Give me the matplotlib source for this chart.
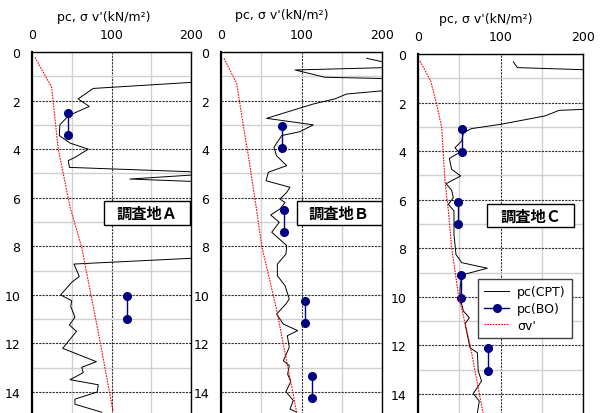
import numpy as np
import matplotlib.pyplot as plt
from matplotlib.patches import Rectangle
from matplotlib.ticker import MultipleLocator

plt.rcParams['font.family'] = ['DejaVu Sans', 'Noto Sans CJK JP']

nan = np.nan

# --- 調査地A ---
cpt_a_x = [250, 77, 58, 72, 46, 35, 34.4, 47.8, 70.8, 54, 45.7, 47, 242, 123, 300, 2000,
           52.8, 59.5, 50, 36, 50, 48.7, 54, 47, 56, 38.6, 81, 62.5, 64.5, 47.8, 83.4, 82,
           54, 54, 87.7]
cpt_a_z = [1.15, 1.5, 1.93, 2.24, 2.62, 3.0, 3.44, 3.75, 4.0, 4.34, 4.47, 4.75, 4.98, 5.23, 5.45, 5.6,
           8.73, 9.24, 9.48, 10.0, 10.24, 10.47, 10.92, 11.24, 11.5, 12.2, 12.75, 12.98, 13.2, 13.49, 13.7, 14.0,
           14.29, 14.5, 14.83]
sv_a_x = [3.8, 24.7, 33, 48, 62.5, 85.5, 102]
sv_a_z = [0.22, 1.45, 4.0, 6.4, 8.04, 11.9, 14.8]
bo_a_x = [45, 45, nan, 119, 119]
bo_a_z = [2.51, 3.4, nan, 10.06, 11.0]

# --- 調査地B ---
cpt_b_x = [181, 230, 92, 129, 240, 250, 156, 141.6, 114.7, 56.7, 114.7, 98, 75.4, 65.8, 69, 81.6,
           58.8, 56, 85.7, 81.6, 73.3, 79.5, 73.3, 61.7, 72.4, 63, 81.6, 80.7, 70, 70, 79.5, 84.8,
           80.7, 69, 77.4, 95.2, 82.4, 84.8, 77.4, 84.8, 82.8, 86.6, 80.7, 89.8, 85.7, 94]
cpt_b_z = [0.26, 0.62, 0.74, 1.04, 1.12, 1.45, 1.73, 1.93, 2.14, 2.73, 3.0, 3.28, 3.44, 3.92, 4.27, 4.68,
           4.95, 5.3, 5.57, 5.78, 6.05, 6.2, 6.46, 6.71, 7.01, 7.42, 7.97, 8.32, 8.73, 9.21, 9.62, 10.17,
           10.37, 10.79, 11.2, 11.47, 11.68, 12.16, 12.71, 12.91, 13.26, 13.57, 13.98, 14.35, 14.7, 14.83]
sv_b_x = [3.7, 19.5, 27.7, 34, 44, 50.5, 69, 94]
sv_b_z = [0.26, 1.3, 3.03, 4.27, 6.46, 7.97, 10.6, 14.83]
bo_b_x = [76, 76, nan, 78, 78, nan, 104, 104, nan, 113.5, 113.5]
bo_b_z = [3.03, 3.97, nan, 6.5, 7.42, nan, 10.24, 11.16, nan, 13.33, 14.26]

# --- 調査地C ---
cpt_c_x = [115.5, 120.4, 250, 260, 171, 154, 99.4, 65, 55, 53, 44.8, 50, 38, 40.8, 51.7, 34,
           40.8, 42.8, 36.8, 43.6, 43.6, 46, 53, 84, 53, 51, 51, 55, 62.2, 57, 63, 72,
           73, 77, 67, 74.3, 72]
cpt_c_z = [0.32, 0.56, 0.7, 2.2, 2.32, 2.55, 2.9, 3.07, 3.24, 3.58, 3.86, 4.06, 4.3, 4.75, 5.02, 5.34,
           5.61, 5.92, 6.19, 6.46, 7.42, 8.25, 8.59, 8.82, 9.1, 9.65, 10.03, 10.58, 10.86, 11.1, 12.09, 12.3,
           13.05, 13.46, 13.98, 14.29, 14.77]
sv_c_x = [2.4, 15.4, 22.6, 28.7, 32.7, 36.8, 40.8, 48.9, 63, 79]
sv_c_z = [0.29, 1.11, 2.07, 3.03, 5.23, 6.46, 7.97, 9.9, 11.95, 14.83]
bo_c_x = [53.7, 53.7, nan, 49, 49, nan, 51.7, 51.7, nan, 85.3, 85.3]
bo_c_z = [3.1, 4.02, nan, 6.1, 7.01, nan, 9.1, 10.03, nan, 12.12, 13.05]

site_names = ['調査地Ａ', '調査地Ｂ', '調査地Ｃ']
cpt_x = [cpt_a_x, cpt_b_x, cpt_c_x]
cpt_z = [cpt_a_z, cpt_b_z, cpt_c_z]
sv_x = [sv_a_x, sv_b_x, sv_c_x]
sv_z = [sv_a_z, sv_b_z, sv_c_z]
bo_x = [bo_a_x, bo_b_x, bo_c_x]
bo_z = [bo_a_z, bo_b_z, bo_c_z]

W, H = 610, 414
fig = plt.figure(figsize=(6.1, 4.14), dpi=100)

# panel pixel layout (left, right, top)
panels = [(32, 191, 53), (221, 382, 53), (418, 583, 55)]
title_pos = [(104, 17), (282, 16), (486, 20)]
box_pos = [(90, 6.12, 109, 1.0), (94, 6.12, 106, 1.0), (84, 6.18, 105, 0.95)]
px_per_m = 24.29
zmax = 15

for i, (l, r, t) in enumerate(panels):
    b = t + zmax * px_per_m
    ax = fig.add_axes([l / W, 1 - b / H, (r - l) / W, (b - t) / H])
    ax.set_xlim(0, 200)
    ax.set_ylim(zmax, 0)

    ax.xaxis.set_major_locator(MultipleLocator(100))
    ax.xaxis.set_minor_locator(MultipleLocator(50))
    ax.yaxis.set_major_locator(MultipleLocator(2))
    ax.yaxis.set_minor_locator(MultipleLocator(1))
    ax.grid(which='minor', color='#d0d0d0', linewidth=1.0, linestyle='-')
    ax.grid(which='major', color='#303030', linewidth=0.8, linestyle=(0, (2, 1)))
    ax.set_axisbelow(True)
    ax.xaxis.tick_top()
    ax.tick_params(which='both', length=0)
    ax.tick_params(axis='x', pad=8, labelsize=9)
    ax.tick_params(axis='y', pad=8.5, labelsize=9)

    ax.spines['bottom'].set_visible(False)
    ax.spines['left'].set_linewidth(1.6)
    ax.spines['right'].set_linewidth(1.0)
    ax.spines['top'].set_linewidth(1.0)

    l1, = ax.plot(cpt_x[i], cpt_z[i], color='black', linewidth=0.7, label='pc(CPT)')
    l2, = ax.plot(bo_x[i], bo_z[i], color='#000080', linewidth=1.0, marker='o',
                  markersize=5.5, label='pc(BO)')
    l3, = ax.plot(sv_x[i], sv_z[i], color='red', linewidth=0.8, linestyle=(0, (1.5, 1)),
                  label="σv'")

    bx, bz, bw, bh = box_pos[i]
    ax.add_patch(Rectangle((bx, bz), bw, bh, facecolor='white', edgecolor='black',
                           linewidth=1.0, zorder=4))
    ax.text(bx + bw / 2, bz + bh / 2, site_names[i], ha='center', va='center',
            fontsize=11, fontweight='bold', zorder=5,
            family=['Noto Sans CJK JP', 'DejaVu Sans'])

    tx, ty = title_pos[i]
    fig.text(tx / W, 1 - ty / H, "pc, σ v'(kN/m²)", ha='center', va='center', fontsize=9)

    if i == 2:
        leg = ax.legend(handles=[l1, l2, l3], loc='upper left',
                        bbox_to_anchor=(478 / W, 1 - 280 / H), bbox_transform=fig.transFigure,
                        fontsize=9, fancybox=False, framealpha=1, edgecolor='#404040',
                        handlelength=2.0, handletextpad=0.6, borderpad=0.5, labelspacing=0.3,
                        borderaxespad=0)
        leg.get_frame().set_linewidth(1.0)
        leg.set_zorder(6)

fig.savefig('out.png', dpi=100)
